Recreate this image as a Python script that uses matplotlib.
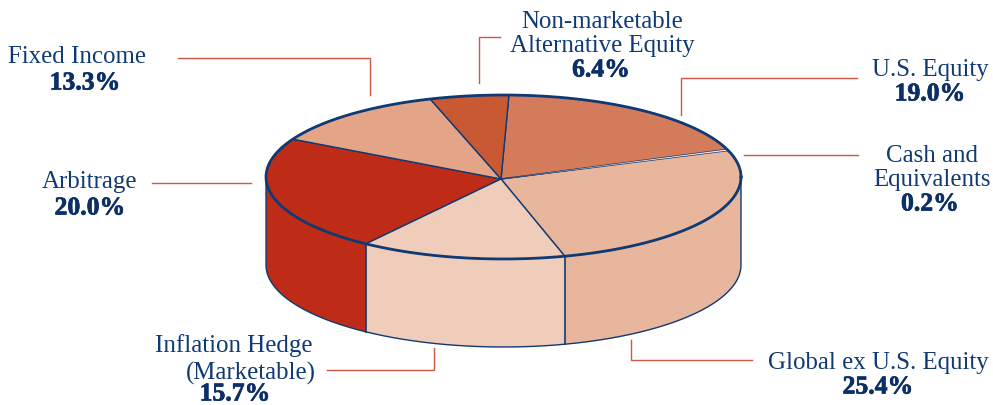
import numpy as np
import matplotlib
matplotlib.use("Agg")
import matplotlib.pyplot as plt
import matplotlib.patheffects as pe
from matplotlib.patches import Polygon

# ---- data ----
categories = ["U.S. Equity", "Cash and Equivalents", "Global ex U.S. Equity",
              "Inflation Hedge (Marketable)", "Arbitrage", "Fixed Income",
              "Non-marketable Alternative Equity"]
shares = [19.0, 0.2, 25.4, 15.7, 20.0, 13.3, 6.4]
colors = ["#D47B5B", "#F7E3D8", "#E8B69D", "#F0CDBA", "#BE2C17", "#E3A488", "#C85933"]

# ---- disc geometry, in pixels ----
CX, CY = 503.5, 178.0
A, B = 237.5, 82.0
DEPTH = 88.0
APEX = (501.0, 180.0)
START = 86.5
ASPECT = 1.2   # slices look narrower front and back, wider at the sides
TILT = np.radians(10)

NAVY = "#0F3A73"
DARK = "#0B2F66"
RED = "#C9452F"

plt.rcParams['font.family'] = ['Liberation Serif', 'DejaVu Serif']

fig = plt.figure(figsize=(9.93, 4.06), dpi=100)
ax = fig.add_axes([0, 0, 1, 1])
ax.set_xlim(0, 993)
ax.set_ylim(406, 0)
ax.axis('off')


def rim(t, drop=0.0):
    return np.column_stack([CX + A * np.cos(t), CY - B * np.sin(t) + drop])


# slice edges, running clockwise from the top of the disc
edges = np.radians(START - np.cumsum([0] + shares) * 3.6) - TILT
edges = np.unwrap(np.arctan2(ASPECT * np.sin(edges), np.cos(edges))) + TILT

# outer wall: only the front half of the rim can be seen
for hi, lo, color in zip(edges[:-1], edges[1:], colors):
    hi_c, lo_c = min(hi, 0.0), max(lo, -np.pi)
    if hi_c <= lo_c:
        continue
    t = np.linspace(hi_c, lo_c, 80)
    wall = np.vstack([rim(t), rim(t[::-1], DEPTH)])
    ax.add_patch(Polygon(wall, closed=True, facecolor=color, edgecolor='none', zorder=1))
    if -np.pi < lo < 0:
        ax.plot(*np.vstack([rim(lo), rim(lo, DEPTH)]).T, color=NAVY, lw=1.2, zorder=2)

# wall outline as one stroke
t = np.linspace(0, -np.pi, 200)
outline = np.vstack([rim(np.array([0.0])), rim(t, DEPTH), rim(np.array([-np.pi]))])
ax.plot(*outline.T, color=NAVY, lw=1.0, zorder=2)

# top face; the cash sliver goes on last so the edge lines do not hide it
order = [i for i in np.argsort(shares)[::-1]]
for i in order:
    t = np.linspace(edges[i], edges[i + 1], 80)
    thin = shares[i] < 1
    ax.add_patch(Polygon(np.vstack([APEX, rim(t)]), closed=True, facecolor=colors[i],
                         edgecolor='none' if thin else NAVY, lw=1.0,
                         joinstyle='round', zorder=3 + thin))
t = np.linspace(0, 2 * np.pi, 300)
ax.plot(*rim(t).T, color=NAVY, lw=2.0, zorder=5)

# leader lines
leaders = [
    [(857, 79), (681, 79), (681, 116)],
    [(744, 156), (858, 156)],
    [(631, 341), (631, 361), (752, 361)],
    [(327, 371), (434, 371), (434, 349)],
    [(152, 184), (251, 184)],
    [(178, 59), (370, 59), (370, 96)],
    [(500, 38), (479, 38), (479, 84)],
]
for pts in leaders:
    ax.plot(*np.array(pts).T, color=RED, lw=1.0, alpha=0.9, solid_joinstyle='miter', zorder=1)

# labels: name lines, then the share in bold
name_lines = [
    [("U.S. Equity", 930, 70)],
    [("Cash and", 932, 156), ("Equivalents", 932, 180)],
    [("Global ex U.S. Equity", 878, 363)],
    [("Inflation Hedge", 234, 346), ("(Marketable)", 251, 373)],
    [("Arbitrage", 90, 182)],
    [("Fixed Income", 77, 57)],
    [("Non-marketable", 602, 22), ("Alternative Equity", 602, 46)],
]
value_pos = [(930, 95), (930, 205), (878, 388), (235, 395), (90, 209), (85, 84), (601, 71)]

for lines, share, (vx, vy) in zip(name_lines, shares, value_pos):
    for text, x, y in lines:
        ax.text(x, y, text, ha='center', va='center', fontsize=17.9, color=NAVY)
    ax.text(vx, vy, f"{share:.1f}%", ha='center', va='center', fontsize=18.5,
            fontweight='bold', color=DARK,
            path_effects=[pe.withStroke(linewidth=0.5, foreground=DARK)])

fig.savefig("out.png", dpi=100)
